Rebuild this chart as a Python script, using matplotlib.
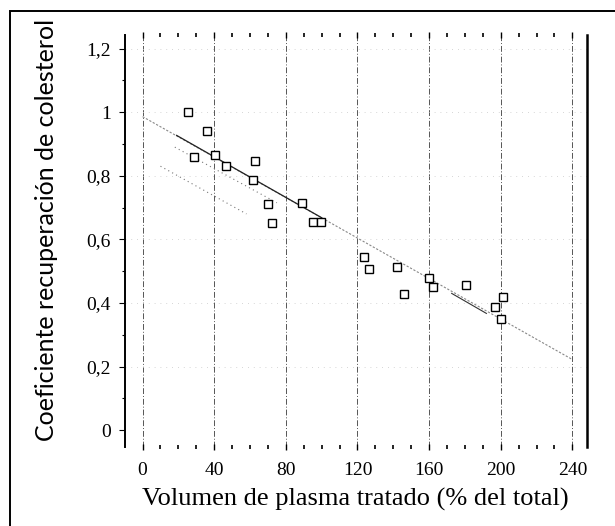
import matplotlib
matplotlib.use("Agg")
import matplotlib.pyplot as plt
from matplotlib.patches import Rectangle

# data
vol = [25.5, 35.7, 28.8, 40.4, 46.5, 62.7, 61.8, 70, 72.2, 89, 95.3, 99.4,
       123.6, 126.6, 142.2, 146, 160, 162.4, 180.4, 196.8, 201.5, 200.2]
coef = [1.00, 0.94, 0.86, 0.865, 0.83, 0.845, 0.786, 0.71, 0.65, 0.715, 0.655, 0.655,
        0.545, 0.508, 0.514, 0.427, 0.479, 0.449, 0.456, 0.388, 0.419, 0.351]

# regression line and band pieces (end points)
fit_x = [0, 240]
fit_y = [0.986, 0.222]
dark1_x = [19, 100]
dark1_y = [0.927, 0.668]
dark2_x = [172.6, 192]
dark2_y = [0.43, 0.367]
mid_x = [18, 75]
mid_y = [0.89, 0.715]
low_x = [10, 58]
low_y = [0.83, 0.68]

x_ticks = [0, 40, 80, 120, 160, 200, 240]
x_labels = ["0", "40", "80", "120", "160", "200", "240"]
y_ticks = [0, 0.2, 0.4, 0.6, 0.8, 1.0, 1.2]
y_labels = ["0", "0,2", "0,4", "0,6", "0,8", "1", "1,2"]

serif = "Liberation Serif"

fig = plt.figure(figsize=(6.15, 5.26), dpi=100)
ax = fig.add_axes([0.203, 0.150, 0.751, 0.783])

# outer frame of the scanned page
fig.add_artist(Rectangle((0.016, -0.2), 1.2, 0.979 + 0.2, transform=fig.transFigure,
                         fill=False, lw=1.4, ec="black"))

# grid
for xv in x_ticks:
    ax.axvline(xv, color="#555555", lw=0.7, ls=(0, (6, 2, 1, 2)), zorder=1)
for yv in y_ticks[1:]:
    ax.axhline(yv, color="#c8c8c8", lw=0.6, ls=(0, (1, 6)), zorder=1)

# regression line and bands
ax.plot(fit_x, fit_y, color="#888888", lw=0.8, ls=(0, (2, 1.5)), zorder=2)
ax.plot(dark1_x, dark1_y, color="#222222", lw=0.9, zorder=2)
ax.plot(dark2_x, dark2_y, color="#333333", lw=0.8, zorder=2)
ax.plot(mid_x, mid_y, color="#777777", lw=0.8, ls=(0, (1, 3)), zorder=2)
ax.plot(low_x, low_y, color="#777777", lw=0.8, ls=(0, (1, 3)), zorder=2)

ax.plot(vol, coef, ls="none", marker="s", ms=5.5, mfc="white", mec="black",
        mew=1.0, zorder=3)

ax.set_xlim(-9.9, 248)
ax.set_ylim(-0.0535, 1.242)

ax.spines["top"].set_visible(False)
ax.spines["bottom"].set_visible(False)
ax.spines["left"].set_linewidth(1.4)
ax.spines["right"].set_linewidth(1.8)

ax.set_xticks(x_ticks)
ax.set_xticklabels(x_labels, fontfamily=serif, fontsize=14)
ax.set_xticks(range(0, 241, 10), minor=True)
ax.set_yticks(y_ticks)
ax.set_yticklabels(y_labels, fontfamily=serif, fontsize=14)
ax.set_yticks([i / 10 for i in range(0, 13)], minor=True)

ax.tick_params(axis="x", which="both", top=True, bottom=True, direction="inout",
               length=5, width=1.0, pad=8)
ax.tick_params(axis="x", which="minor", length=3, width=1.2)
ax.tick_params(axis="y", which="major", left=True, right=False, direction="out",
               length=4, width=0.8, pad=6)
ax.tick_params(axis="y", which="minor", direction="out", length=2, width=0.8)

ax.set_xlabel("Volumen de plasma tratado (% del total)", fontfamily=serif,
              fontsize=19)
ax.set_ylabel("Coeficiente recuperación de colesterol", fontfamily="Lato",
              fontsize=18)
ax.xaxis.set_label_coords(0.5, -0.1)
ax.yaxis.set_label_coords(-0.145, 0.527)

fig.savefig("out.png", dpi=100)
